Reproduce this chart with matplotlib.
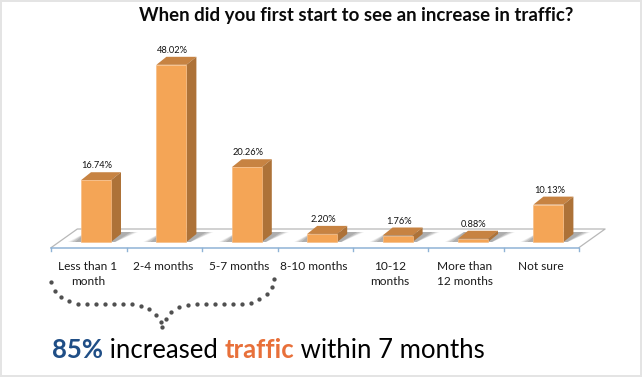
import matplotlib
matplotlib.use("Agg")
import matplotlib.pyplot as plt
from matplotlib.patches import Polygon, Rectangle
from matplotlib.transforms import Affine2D

categories = ["Less than 1\nmonth", "2-4 months", "5-7 months", "8-10 months",
              "10-12\nmonths", "More than\n12 months", "Not sure"]
values = [16.74, 48.02, 20.26, 2.20, 1.76, 0.88, 10.13]
labels = ["16.74%", "48.02%", "20.26%", "2.20%", "1.76%", "0.88%", "10.13%"]
title = "When did you first start to see an increase in traffic?"
brace_x = [51, 55, 61, 69, 78, 87, 96, 105, 114, 123, 132, 141, 149, 156, 161, 162,
           166, 171, 179, 188, 197, 206, 215, 224, 233, 242, 251, 259, 267, 272, 274]
brace_y = [282, 291, 297, 301, 304, 304, 304, 304, 304, 304, 304, 306, 309, 315, 322, 327,
           319, 312, 307, 305, 304, 304, 304, 304, 304, 304, 303, 299, 294, 287, 279]

W, H = 642, 377
PX_STEP, PX_X0, PX_Y0, PX_PER = 75.4, 96.0, 242.0, 3.69
fig = plt.figure(figsize=(W / 100, H / 100), dpi=100, facecolor="white")
ax = fig.add_axes([0, 0, 1, 1])
ax.set_xlim((0 - PX_X0) / PX_STEP, (W - PX_X0) / PX_STEP)
ax.set_ylim((PX_Y0 - H) / PX_PER, PX_Y0 / PX_PER)
ax.axis("off")
px = Affine2D().scale(1, -1).translate(0, H)  # pixel overlay (top-left origin)
plt.rcParams["font.family"] = ["Lato", "DejaVu Sans"]

# outer frame
for r in [(0, 0, 2, H), (W - 2, 0, 2, H), (0, 0, W, 2), (0, H - 2, W, 2)]:
    ax.add_patch(Rectangle(r[:2], r[2], r[3], transform=px, color="#e4e4e4", lw=0, zorder=10))

bw = 30 / PX_STEP
dx, dy = 10 / PX_STEP, 8 / PX_PER
n = len(values)
fx0, fx1 = -0.5 - 7 / PX_STEP, n - 0.5 - 7 / PX_STEP
fy0 = -5.5 / PX_PER
fy1 = 13 / PX_PER
fs = 26 / PX_STEP

# floor
ax.plot([fx0, fx0 + fs, fx1 + fs, fx1], [fy0, fy1, fy1, fy0], color="#b8b8b8", lw=0.9, zorder=1)
ax.plot([fx0, fx1], [fy0, fy0], color="#8fb3d6", lw=1.1, zorder=2)
for i in range(n + 1):
    ax.plot([fx0 + i] * 2, [fy0, fy0 - 3 / PX_PER], color="#8fb3d6", lw=1.0, zorder=2)

for i, (v, lab, cat) in enumerate(zip(values, labels, categories)):
    l, r = i - bw / 2, i + bw / 2
    # soft shadow on floor
    for k, a in zip([7, 5, 3, 0], [0.12, 0.16, 0.22, 0.28]):
        e = k / PX_STEP
        ax.add_patch(Polygon([(l - 6 / PX_STEP - e, 0), (l + 6 / PX_STEP, 10 / PX_PER),
                              (r + 20 / PX_STEP + e, 10 / PX_PER), (r + 4 / PX_STEP, 0)],
                             closed=True, color="#777777", alpha=a, lw=0, zorder=2.5))
    ax.add_patch(Polygon([(l, v), (l + dx, v + dy), (r + dx, v + dy), (r, v)],
                         closed=True, fc="#c78342", ec="none", zorder=4))
    ax.add_patch(Polygon([(r, 0), (r + dx, dy), (r + dx, v + dy), (r, v)],
                         closed=True, fc="#ad7238", ec="none", zorder=4))
    ax.bar(i, v, width=bw, bottom=0, color="#f4a556", edgecolor="#f7bd85", lw=0.5, zorder=5)
    ax.text(i + dx / 2 - 4 / PX_STEP, v + dy + 2 / PX_PER, lab, ha="center", va="bottom",
            fontsize=6.7, color="#111111", zorder=6)
    ax.text(i - 8 / PX_STEP, fy0 - 14 / PX_PER, cat, ha="center", va="top", fontsize=8.6, color="#1a1a1a",
            linespacing=1.38, zorder=6)

ax.text(356.5, 16, title, transform=px, ha="center", va="center", fontsize=13.4,
        fontweight="bold", color="#0a0a0a")

ax.plot(brace_x, brace_y, transform=px, ls="none", marker="o", ms=3.1, color="#505050", mew=0, zorder=6)

# bottom caption
fig.canvas.draw()
rend = fig.canvas.get_renderer()
x = 52
for s, c, w in [("85%", "#1f4e86", "bold"), (" increased ", "#000000", "normal"),
                ("traffic", "#e8703a", "bold"), (" within 7 months", "#000000", "normal")]:
    t = ax.text(x, 357.5, s, transform=px, ha="left", va="baseline", fontsize=18.5, color=c, fontweight=w, zorder=6)
    # keep spaces in the measured width
    t2 = ax.text(0, 0, "|" + s + "|", fontsize=18.5, fontweight=w)
    t3 = ax.text(0, 0, "||", fontsize=18.5, fontweight=w)
    x += t2.get_window_extent(rend).width - t3.get_window_extent(rend).width
    t2.remove(); t3.remove()

fig.savefig("out.png", dpi=100, facecolor="white")
